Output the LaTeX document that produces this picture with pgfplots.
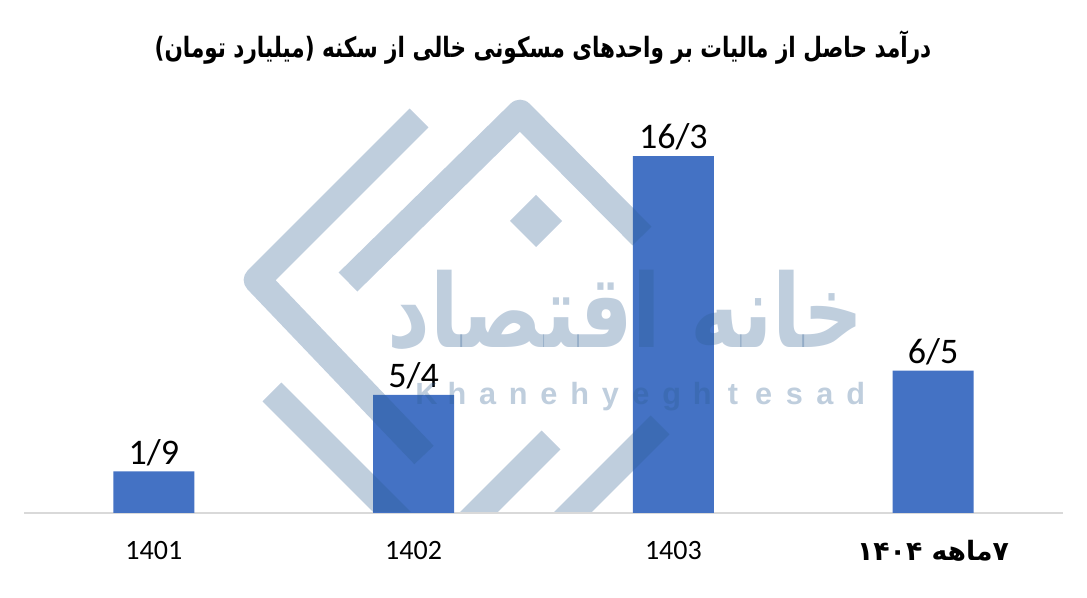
\documentclass[border=0pt]{standalone}
\usepackage{graphicx}
\usepackage{pgfplots}
\pgfplotsset{compat=1.18}
\usepackage{fontspec}
\setmainfont{Carlito}
\newfontfamily\arabicfont[Script=Arabic]{DejaVu Sans}
\newfontfamily\wmfont{Liberation Sans}
\TeXXeTstate=1
\definecolor{barblue}{HTML}{4472C4}
\definecolor{wm}{HTML}{2C5C90}
\newcommand{\wl}[1]{\makebox[23pt]{#1}}
\begin{document}
\begin{tikzpicture}
\useasboundingbox (0,0) rectangle (815.25pt,448.5pt);
\begin{axis}[
  at={(18pt,63.75pt)}, anchor=south west,
  scale only axis, width=779.25pt, height=312pt,
  xmin=-0.5, xmax=3.5, ymin=0, ymax=19,
  axis x line*=bottom, axis y line=none,
  x axis line style={draw=black!15, line width=1pt},
  ytick=\empty,
  xtick={0,1,2,3},
  xticklabels={1401,1402,1403,{\fontsize{20}{20}\selectfont\arabicfont\bfseries\beginR ۷ماهه \beginL۱۴۰۴\endL\endR}},
  major tick length=0pt,
  xticklabel style={font=\fontsize{21}{21}\selectfont, anchor=center, yshift=-28pt},
  ybar, bar width=60.75pt,
  point meta=explicit symbolic,
  nodes near coords,
  nodes near coords style={font=\fontsize{27}{27}\selectfont, anchor=south, yshift=3pt, inner sep=1pt},
  clip=false,
]
\addplot[fill=barblue, draw=none] coordinates {(0,1.9) [1/9] (1,5.4) [5/4] (2,16.3) [16/3] (3,6.5) [6/5]};
\end{axis}
% watermark (logo of the source)
\begin{scope}[shift={(0,448.5pt)}, x=0.75pt, y=-0.75pt]
  \clip (0,0) rectangle (1087,512);
  \begin{scope}[draw=wm, fill=wm, opacity=0.3, line width=20pt, line cap=butt, line join=round]
    \draw (419,118) -- (257,280) -- (424,455);
    \draw (348,282) -- (520,113) -- (642,236);
    \draw (272,392) -- (420,540);
    \draw (551,440) -- (450,541);
    \draw (660,425) -- (545,540);
    \fill (536,195) -- (562,221) -- (536,247) -- (510,221) -- cycle;
    \node[text=wm, inner sep=0pt] at (626,310) {\resizebox{357pt}{58pt}{\arabicfont\bfseries\beginR خانه اقتصاد\endR}};
    \node[text=wm, inner sep=0pt, anchor=base, font=\wmfont\bfseries\fontsize{23}{23}\selectfont] at (641,405) {\wl{K}\wl{h}\wl{a}\wl{n}\wl{e}\wl{h}\wl{y}\wl{e}\wl{g}\wl{h}\wl{t}\wl{e}\wl{s}\wl{a}\wl{d}};
  \end{scope}
\end{scope}
\node[inner sep=0pt] at (407.25pt,413pt) {\scalebox{0.77}[1]{\fontsize{21}{21}\selectfont\arabicfont\bfseries\beginR درآمد حاصل از مالیات بر واحدهای مسکونی خالی از سکنه (میلیارد تومان)\endR}};
\end{tikzpicture}
\end{document}
